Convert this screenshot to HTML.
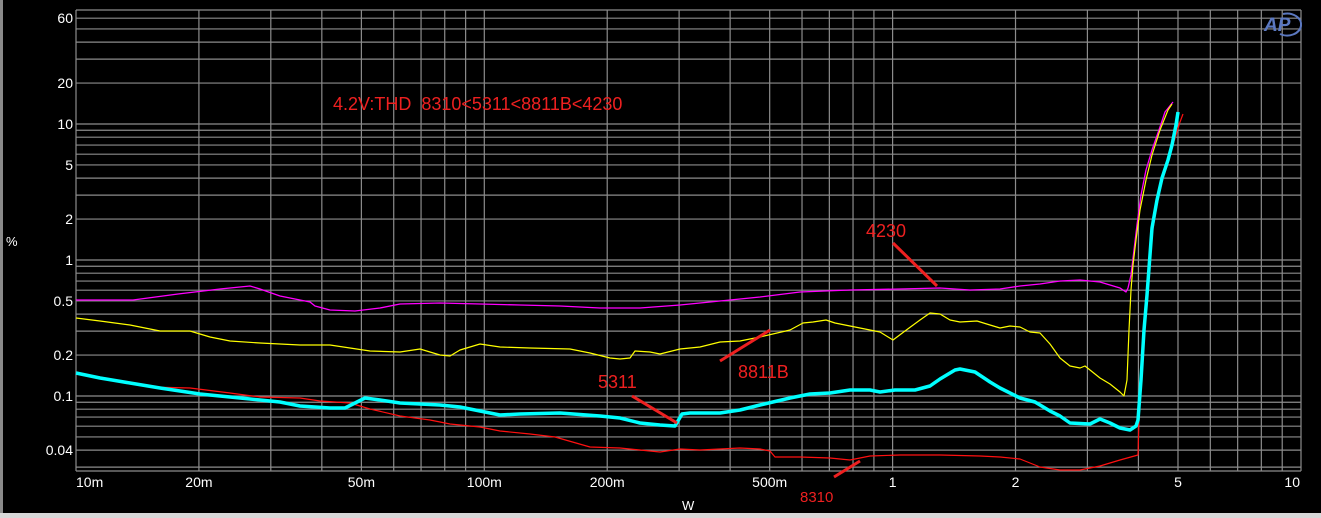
<!DOCTYPE html>
<html><head><meta charset="utf-8"><style>
html,body{margin:0;padding:0;background:#000;}
svg{display:block;}
text{font-family:"Liberation Sans",Arial,sans-serif;}
</style></head><body>
<svg id="s" width="1321" height="518" viewBox="0 0 1321 518" xmlns="http://www.w3.org/2000/svg">
<rect width="1321" height="518" fill="#000"/>
<rect x="0" y="0" width="3" height="518" fill="#8a8a8a"/>
<rect x="0" y="513" width="1321" height="5" fill="#d8d8d8"/>
<g id="grid" stroke="#8c8c8c" stroke-width="1.2"></g>
<g id="lab" fill="#fff" font-size="14"></g>
<text x="6" y="246" fill="#fff" font-size="13">%</text>
<text x="682" y="510" fill="#fff" font-size="13">W</text>
<g fill="none" stroke-linejoin="round">
<polyline stroke="#ff00ff" stroke-width="1.3" points="76,300 133,300 178,294 220,289 250,286 260,289 280,296 310,302 315,306 330,310 355,311 380,308 400,304 440,303 480,304 520,305 560,306 600,308 640,308 680,305 700,303 730,300 760,297 800,292 850,290 900,289 940,288 970,290 1000,289 1020,286 1040,284 1060,281 1080,280 1100,282 1120,288 1126,292 1128,288 1131,275 1134,250 1137,225 1141,195 1146,170 1152,150 1160,127 1165,112 1173,102"/>
<polyline stroke="#ffff00" stroke-width="1.2" points="76,318 100,321 130,325 160,331 190,331 210,337 230,341 260,343 300,345 330,345 350,348 370,351 400,352 420,349 440,355 450,356 460,350 480,344 500,347 530,348 570,349 590,353 610,358 620,359 630,358 635,351 650,352 660,354 680,349 700,347 720,342 740,341 760,337 790,330 803,323 813,322 826,320 835,323 850,326 880,332 893,340 905,331 920,320 930,313 940,314 950,320 960,322 977,321 990,325 1000,328 1010,326 1020,327 1030,332 1040,333 1050,344 1060,358 1070,366 1080,368 1085,366 1090,370 1100,378 1110,384 1120,392 1124,396 1127,380 1129,330 1131,290 1133,265 1136,240 1140,210 1146,180 1152,155 1160,130 1168,110 1172,104"/>
<polyline stroke="#ff1010" stroke-width="1.2" points="76,373 100,377 150,387 190,388 230,393 260,397 300,398 320,401 350,403 370,409 400,416 430,420 450,424 480,427 500,431 530,434 555,437 590,447 620,448 640,450 660,452 680,449 700,450 740,448 760,449 770,451 775,457 800,457 830,458 850,460 870,456 900,455 940,455 980,456 1000,457 1020,459 1040,467 1060,470 1080,470 1100,466 1120,460 1138,455 1139,420 1142,370 1145,320 1148,290 1152,235 1157,205 1162,182 1168,163 1172,148 1176,135 1180,122 1183,114"/>
<polyline stroke="#00ffff" stroke-width="3.5" points="76,373 100,378 130,383 160,388 200,394 240,398 280,402 300,406 330,408 345,408 355,403 365,398 380,400 400,403 440,405 460,407 480,411 500,415 520,414 560,413 600,416 620,418 640,423 660,425 675,426 682,414 690,413 720,413 740,410 760,405 790,398 810,394 830,393 850,390 870,390 880,392 895,390 915,390 930,386 940,379 955,370 960,369 975,372 990,382 1000,388 1020,398 1035,402 1050,411 1060,416 1070,423 1090,424 1100,419 1110,423 1120,428 1130,430 1136,426 1138,420 1141,380 1144,330 1147,295 1152,228 1157,200 1162,178 1168,160 1172,145 1176,125 1178,112"/>
</g>
<g stroke="#ee2020" stroke-width="3">
<line x1="893" y1="243" x2="937" y2="286"/>
<line x1="720" y1="361" x2="770" y2="330"/>
<line x1="632" y1="396" x2="677" y2="423"/>
<line x1="834" y1="477" x2="860" y2="461"/>
</g>
<g fill="#ee2020">
<text x="333" y="110" font-size="18">4.2V:THD&#160; 8310&lt;5311&lt;8811B&lt;4230</text>
<text x="866" y="237" font-size="18">4230</text>
<text x="738" y="378" font-size="18">8811B</text>
<text x="598" y="388" font-size="18">5311</text>
<text x="800" y="502" font-size="15">8310</text>
</g>
<g fill="none" stroke="#5b78c0" stroke-width="2">
<path d="M1283,14 A14,11 0 1 1 1280,34"/>
</g>
<text x="1264" y="31" fill="#5b78c0" font-size="19" font-style="italic" font-weight="bold">AP</text>
</svg>
<script>
var ns="http://www.w3.org/2000/svg",g=document.getElementById('grid'),lab=document.getElementById('lab');
var L=76,R=1301,T=10,B=471;
function X(w){return L+408.3*Math.log10(w/0.01);}
function Y(v){return 124-136*Math.log10(v/10);}
function ln(a,b,c,d){var e=document.createElementNS(ns,'line');e.setAttribute('x1',a);e.setAttribute('y1',b);e.setAttribute('x2',c);e.setAttribute('y2',d);g.appendChild(e);}
function tx(x,y,s,a){var e=document.createElementNS(ns,'text');e.setAttribute('x',x);e.setAttribute('y',y);e.setAttribute('text-anchor',a);e.textContent=s;lab.appendChild(e);}
[0.01,0.1,1].forEach(function(d){for(var k=1;k<=9;k++){var x=X(d*k);if(x>L+1&&x<R-1)ln(x,T,x,B);}});
[0.01,0.1,1,10].forEach(function(d){for(var k=1;k<=9;k++){var v=d*k;if(v<0.03||v>65)continue;var y=Y(v);if(y>T+1&&y<B-1)ln(L,y,R,y);}});
ln(L,T,R,T);ln(L,B,R,B);ln(L,T,L,B);ln(R,T,R,B);
[[60,'60'],[20,'20'],[10,'10'],[5,'5'],[2,'2'],[1,'1'],[0.5,'0.5'],[0.2,'0.2'],[0.1,'0.1'],[0.04,'0.04']].forEach(function(p){tx(73,Y(p[0])+5,p[1],'end');});
[[0.02,'20m'],[0.05,'50m'],[0.1,'100m'],[0.2,'200m'],[0.5,'500m'],[1,'1'],[2,'2'],[5,'5']].forEach(function(p){tx(X(p[0]),487,p[1],'middle');});
tx(76,487,'10m','start');tx(1300,487,'10','end');
</script>
</body></html>
